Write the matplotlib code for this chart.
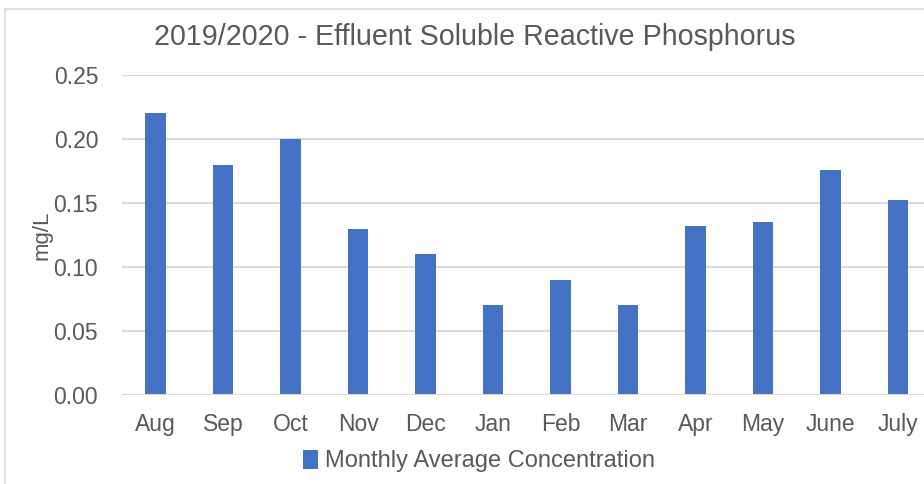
import matplotlib.pyplot as plt
from matplotlib.patches import Rectangle, Patch

months = ['Aug', 'Sep', 'Oct', 'Nov', 'Dec', 'Jan', 'Feb', 'Mar', 'Apr', 'May', 'June', 'July']
concentration = [0.22, 0.18, 0.20, 0.13, 0.11, 0.07, 0.09, 0.07, 0.132, 0.135, 0.176, 0.152]
yticks = [0.00, 0.05, 0.10, 0.15, 0.20, 0.25]

plt.rcParams['font.family'] = ['Liberation Sans', 'DejaVu Sans']
text_col = '#595959'
grid_col = '#D9D9D9'
bar_col = '#4472C4'

W, H = 924, 484
fig = plt.figure(figsize=(W / 100, H / 100), dpi=100)

# plot area in pixel coords (from reference)
left, right, top, bottom = 121.75, 931.75, 75, 395
ax = fig.add_axes([left / W, 1 - bottom / H, (right - left) / W, (bottom - top) / H])

x = range(len(months))
ax.bar(x, concentration, width=0.31, color=bar_col, zorder=3)
ax.set_xlim(-0.5, len(months) - 0.5)
ax.set_ylim(0, 0.25)
ax.set_yticks(yticks)
ax.set_yticklabels([f'{v:.2f}' for v in yticks])
ax.set_xticks(list(x))
ax.set_xticklabels(months)
ax.yaxis.grid(True, color=grid_col, linewidth=1.5, zorder=0)
for s in ax.spines.values():
    s.set_visible(False)
ax.axhline(0, color=grid_col, linewidth=1.5, zorder=4)
ax.tick_params(axis='both', length=0, labelsize=16.5, colors=text_col)
ax.tick_params(axis='y', pad=17)
ax.tick_params(axis='x', pad=13)
ax.set_ylabel('mg/L', fontsize=16, color=text_col, labelpad=1)

fig.text(475 / W, 1 - 37 / H, '2019/2020 - Effluent Soluble Reactive Phosphorus',
         fontsize=20.6, color=text_col, ha='center', va='center')

handles = [Patch(facecolor=bar_col, label='Monthly Average Concentration')]
fig.legend(handles=handles, loc='center', bbox_to_anchor=(479 / W, 1 - 461 / H),
           frameon=False, fontsize=17, labelcolor=text_col,
           handlelength=0.6, handleheight=0.9, handletextpad=0.3)

# chart border (cropped at right and bottom)
fig.patches.append(Rectangle((4.5 / W, -0.1), 1.2, 1 - 8.5 / H + 0.1,
                             transform=fig.transFigure, fill=False,
                             edgecolor=grid_col, linewidth=1.2))

fig.savefig('out.png', dpi=100)
